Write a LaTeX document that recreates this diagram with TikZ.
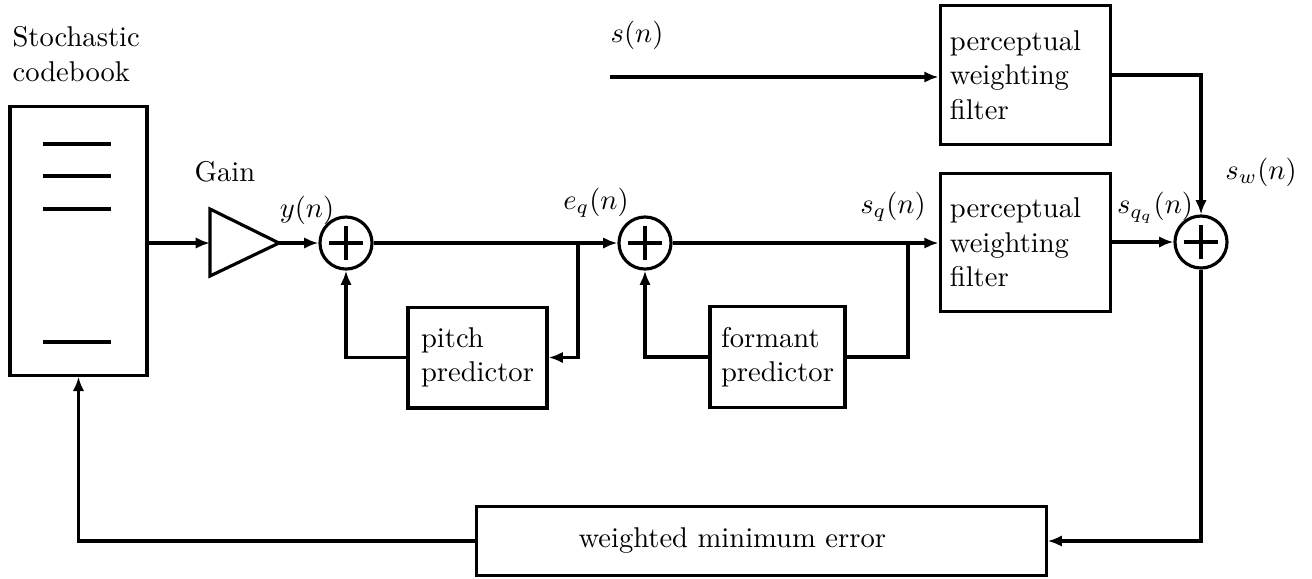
\documentclass[tikz,border=0pt]{standalone}
\usepackage{tikz}
\usetikzlibrary{arrows.meta}

\begin{document}
\begin{tikzpicture}[x=0.0123cm,y=-0.0123cm,line width=1.1pt,
  blockbox/.style={draw,align=left,inner sep=0pt},
  sumnode/.style={draw,circle,minimum size=0.64cm,inner sep=0pt,
    path picture={\draw (path picture bounding box.center) ++(-0.21cm,0) -- ++(0.42cm,0)
      (path picture bounding box.center) ++(0,-0.21cm) -- ++(0,0.42cm);}},
  sig/.style={-{Latex[length=5pt,width=4pt]}}]
\path[use as bounding box] (0,0) rectangle (1312,578);
% codebook and gain
\node[anchor=north west,align=left,inner sep=0pt] (booktext) at (11,25) {Stochastic\\codebook};
\node[blockbox,minimum width=1.685cm,minimum height=3.30cm] (book) at (78.5,241) {};
\draw (43,144) -- (111,144);
\draw (43,176) -- (111,176);
\draw (43,209) -- (111,209);
\draw (43,342) -- (111,342);
\draw (210,209) -- (279,243) -- (210,276) -- cycle;
\coordinate (gin) at (210,243);
\coordinate (gout) at (279,243);
\node (gaintext) at (225,172) {Gain};
% summing points
\node[sumnode] (s1) at (346,243) {};
\node[sumnode] (s2) at (645,243) {};
\node[sumnode] (s3) at (1201,242) {};
\coordinate (b1) at (578,243);
\coordinate (b2) at (908,243);
\coordinate (sin) at (610,77);
% blocks
\node[blockbox,minimum width=1.71cm,minimum height=1.24cm] (pitch) at (477.5,357.5) {pitch\\predictor};
\node[blockbox,minimum width=1.66cm,minimum height=1.25cm] (formant) at (777.5,357) {formant\\predictor};
\node[blockbox,minimum width=2.10cm,minimum height=1.70cm,text width=1.86cm] (pwfa) at (1025.5,75) {perceptual\\weighting\\filter\\[4pt]};
\node[blockbox,minimum width=2.10cm,minimum height=1.69cm,text width=1.86cm] (pwfb) at (1025.5,242.5) {perceptual\\weighting\\filter\\[4pt]};
\node[blockbox,minimum width=7.00cm,minimum height=0.84cm,text width=4.50cm] (err) at (761.5,541) {weighted minimum error};
% signal labels
\node (ylab) at (307,210) {$y(n)$};
\node (eqlab) at (596,203) {$e_q(n)$};
\node (sqlab) at (893,207) {$s_q(n)$};
\node (slab) at (637,35) {$s(n)$};
\node (sqqlab) at (1155,208) {$s_{q_q}(n)$};
\node (swlab) at (1261,172) {$s_w(n)$};
% connections
\draw[sig] (book.east |- gin) -- (gin);
\draw[sig] (gout) -- (s1.west);
\draw[sig] (s1) -- (s2);
\draw[sig] (b1) |- (pitch.east);
\draw[sig] (pitch.west) -| (s1.south);
\draw[sig] (s2) -- (pwfb.west |- s2);
\draw (b2) |- (formant.east);
\draw[sig] (formant.west) -| (s2.south);
\draw[sig] (sin) -- (sin -| pwfa.west);
\draw[sig] (pwfa.east) -| (s3.north);
\draw[sig] (pwfb.east |- s3) -- (s3.west);
\draw[sig] (s3.south) |- (err.east);
\draw[sig] (err.west) -| (book.south);
\end{tikzpicture}
\end{document}
